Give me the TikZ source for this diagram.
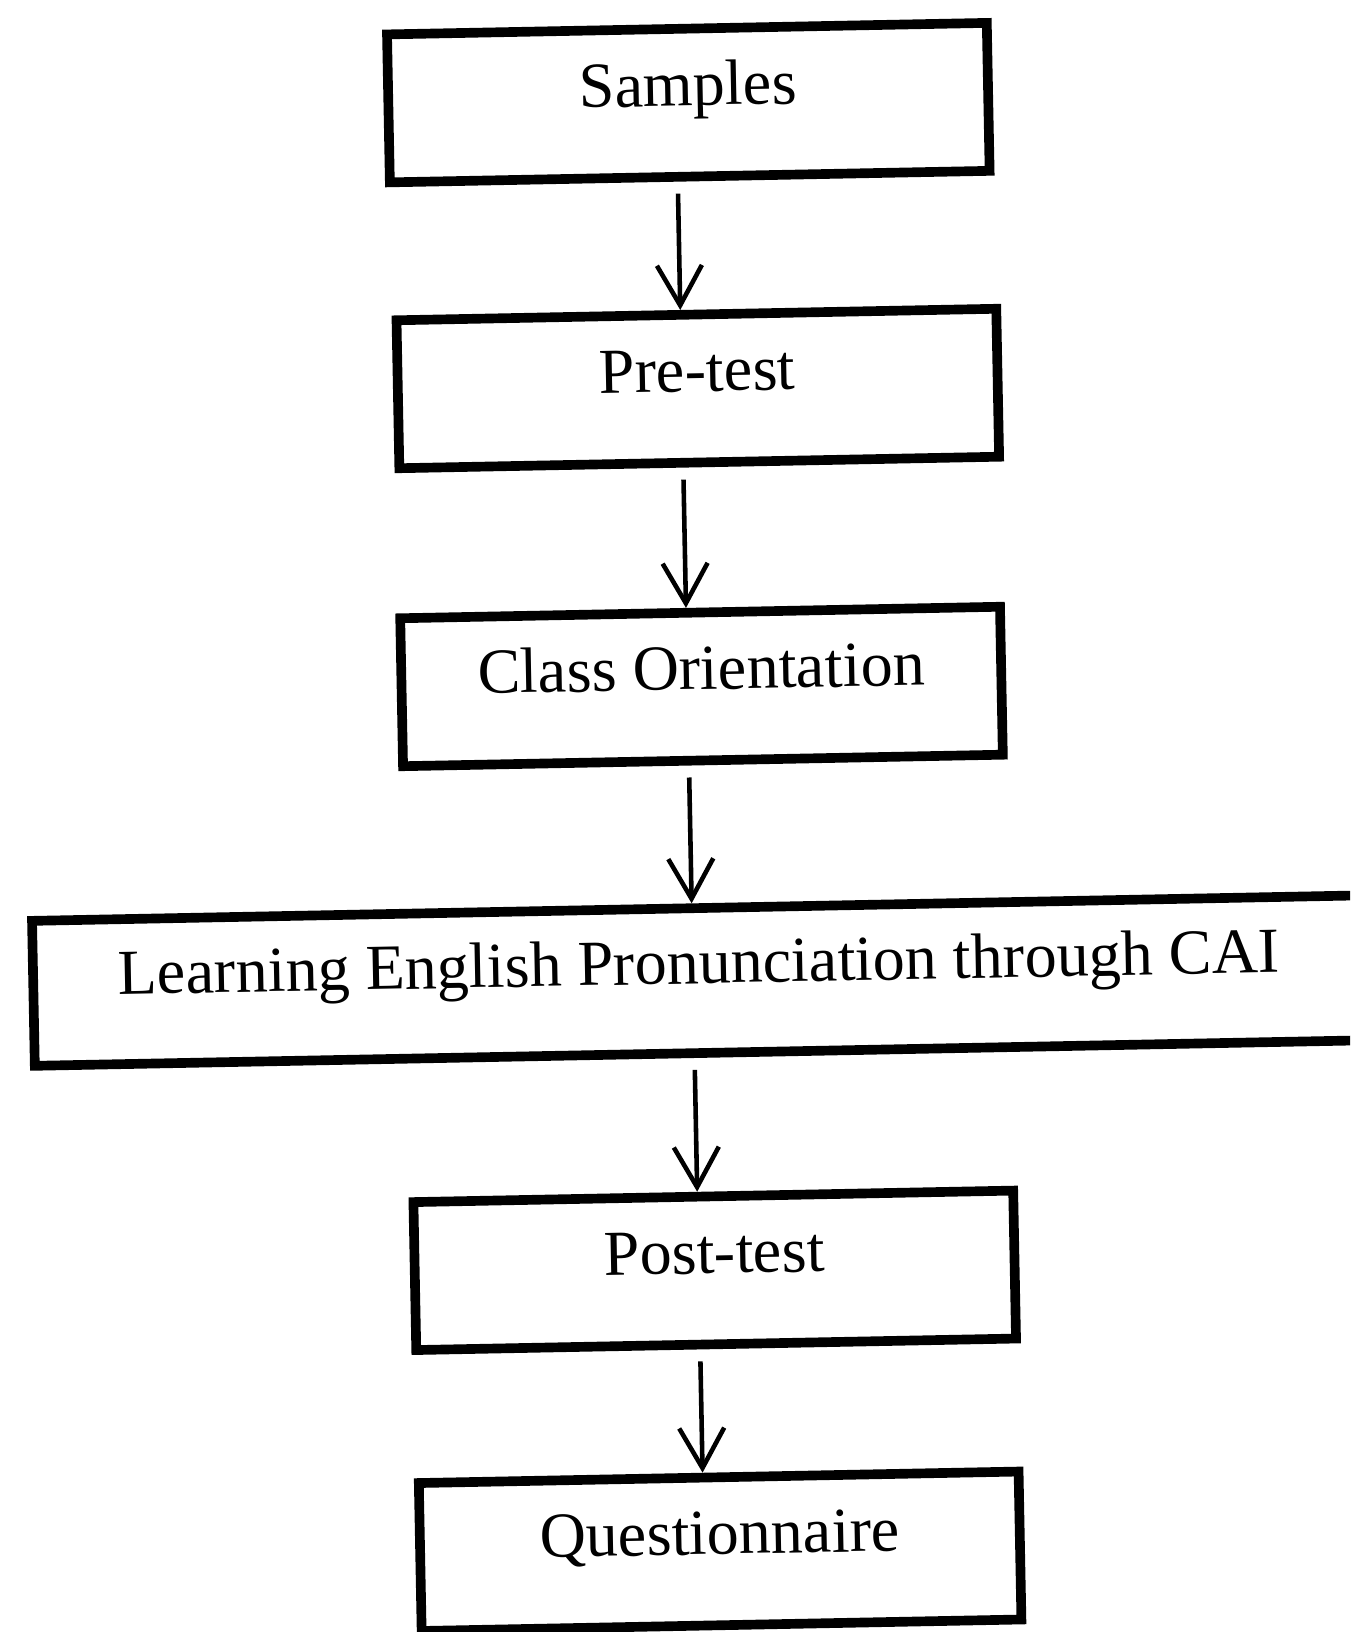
\documentclass[tikz,border=0pt]{standalone}
\usepackage{fontspec}
\setmainfont{Liberation Serif}
\usetikzlibrary{arrows.meta}

\begin{document}
\begin{tikzpicture}[x=0.02cm, y=-0.02cm,
  box/.style={draw, line width=5.5pt, minimum width=12cm, minimum height=2.96cm, inner sep=0,
    text height=0.9cm, text depth=0.78cm, font=\fontsize{36.5}{40}\selectfont},
  flow/.style={line width=2.6pt, -{Straight Barb[length=0.8cm,width=0.9cm]}, shorten <=0.24cm}
]
\useasboundingbox (0,0) rectangle (1350,1632);
\clip (0,0) rectangle (1350,1632);
% scan is turned a little
\begin{scope}[rotate around={1.1:(675,816)}, transform shape]
\node[box] (samples) at (702,103) {Samples};
\node[box] (pretest) at (706,389) {Pre-test};
\node[box] (classor) at (704,687) {Class Orientation};
\node[box, minimum width=26.64cm, minimum height=2.9cm] (learning) at (696,981) {Learning English Pronunciation through CAI};
\node[box] (posttest) at (706,1271) {Post-test};
\node[box] (quest) at (706,1552) {Questionnaire};

\draw[flow] ([xshift=-0.24cm]samples.south) -- ([xshift=-0.32cm]pretest.north);
\draw[flow] ([xshift=-0.32cm]pretest.south) -- ([xshift=-0.28cm]classor.north);
\draw[flow] ([xshift=-0.28cm]classor.south) -- ([xshift=-0.12cm]learning.north);
\draw[flow] ([xshift=-0.12cm]learning.south) -- ([xshift=-0.32cm]posttest.north);
\draw[flow] ([xshift=-0.32cm]posttest.south) -- ([xshift=-0.32cm]quest.north);
\end{scope}
\end{tikzpicture}
\end{document}
